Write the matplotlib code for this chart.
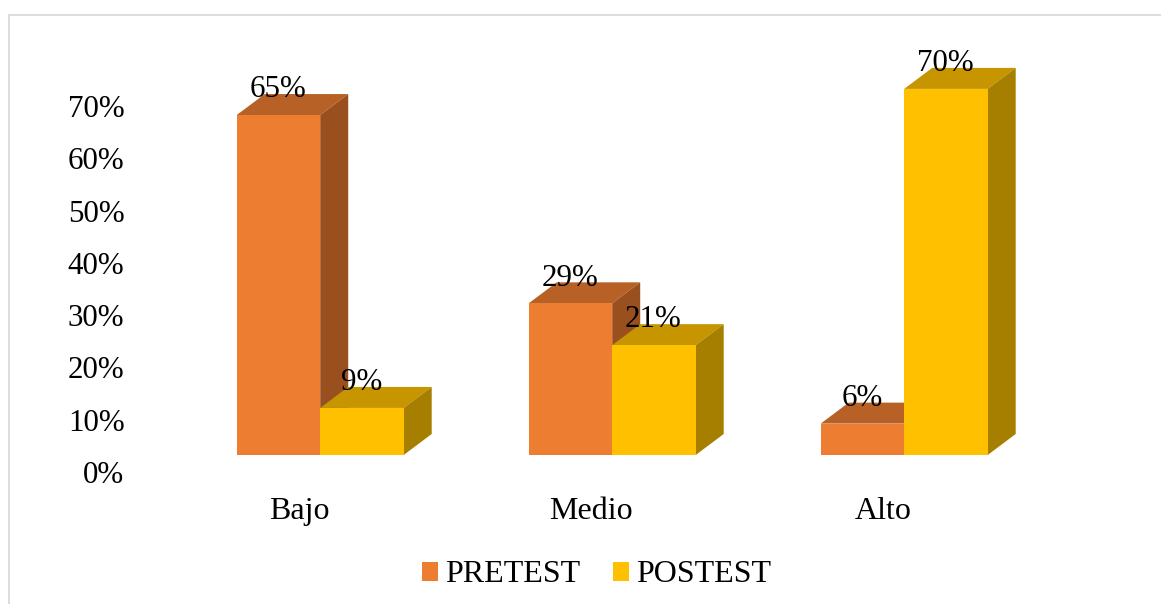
import matplotlib
matplotlib.use("Agg")
import matplotlib.pyplot as plt
from matplotlib.patches import Polygon, Rectangle

categories = ["Bajo", "Medio", "Alto"]
pretest = [65, 29, 6]
postest = [9, 21, 70]
yticks = [0, 10, 20, 30, 40, 50, 60, 70]
series_names = ["PRETEST", "POSTEST"]

W, H = 1161, 604
FS = 23
FS_NUM = 22.3
plt.rcParams["font.family"] = ["Liberation Serif", "DejaVu Serif"]
fig = plt.figure(figsize=(W / 100, H / 100), dpi=100)
fig.patch.set_facecolor("white")

# light frame of the chart area
fig.add_artist(Rectangle((9 / W, -0.02), 1.2, (604 - 15) / H + 0.02, transform=fig.transFigure,
                         fill=False, ec="#DDDDDD", lw=1.44))

PX = 5.23            # pixels per percent
SP = 292.0           # pixels per category
BOTTOM, TOP = 472, 20
LEFT, RIGHT = 130, 1100
ax = fig.add_axes([LEFT / W, (H - BOTTOM) / H, (RIGHT - LEFT) / W, (BOTTOM - TOP) / H])
ax.set_ylim(0, (BOTTOM - TOP) / PX)
x0 = (320.2 - LEFT) / SP
ax.set_xlim(-x0, -x0 + (RIGHT - LEFT) / SP)
ax.patch.set_alpha(0)
for s in ax.spines.values():
    s.set_visible(False)

down = 17 / PX       # front plane sits above the axis zero
bw = 83.5 / SP
dx = 28 / SP
dy = 21 / PX


def bar3d(xl, v, front, top, side, zb):
    b = down
    t = down + v
    ax.bar(xl, v, bw, bottom=b, align="edge", color=front, lw=0, zorder=zb + 0.2)
    ax.add_patch(Polygon([(xl, t), (xl + dx, t + dy), (xl + bw + dx, t + dy), (xl + bw, t)],
                         fc=top, lw=0, zorder=zb))
    ax.add_patch(Polygon([(xl + bw, b), (xl + bw + dx, b + dy), (xl + bw + dx, t + dy), (xl + bw, t)],
                         fc=side, lw=0, zorder=zb + 0.1))


label_y = dy * 0.5 + 1.2 + 8.5 / PX
label_x = -0.5 / SP
for i in range(len(categories)):
    bar3d(i - bw, pretest[i], "#ED7D31", "#B86127", "#9A4F1F", 2 + i)
    bar3d(i, postest[i], "#FFC000", "#C69500", "#A67E00", 3 + i)
    ax.text(i - bw / 2 + label_x, down + pretest[i] + label_y, f"{pretest[i]}%",
            ha="center", va="center", fontsize=FS_NUM, color="black", zorder=20)
    ax.text(i + bw / 2 + label_x, down + postest[i] + label_y, f"{postest[i]}%",
            ha="center", va="center", fontsize=FS_NUM, color="black", zorder=20)

ax.set_yticks(yticks)
ax.set_yticklabels([f"{v}%" for v in yticks], fontsize=FS_NUM, color="black")
ax.set_xticks([i - 21 / SP for i in range(3)])
ax.set_xticklabels(categories, fontsize=FS, color="black")
ax.tick_params(length=0)
ax.tick_params(axis="x", pad=18)
ax.tick_params(axis="y", pad=4)

handles = [Rectangle((0, 0), 1, 1, fc="#ED7D31", lw=0), Rectangle((0, 0), 1, 1, fc="#FFC000", lw=0)]
fig.legend(handles, series_names, loc="center", bbox_to_anchor=(596.5 / W, (H - 575) / H), ncol=2,
           frameon=False, fontsize=FS, handlelength=0.53, handleheight=0.53, handletextpad=0.22,
           columnspacing=1.0, borderpad=0)

fig.savefig("out.png", dpi=100)
